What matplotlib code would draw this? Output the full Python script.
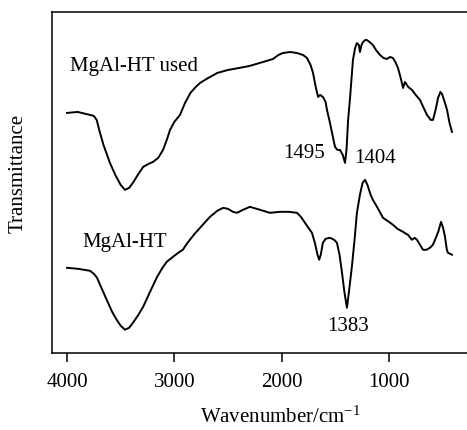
import matplotlib.pyplot as plt

# FTIR spectra (wavenumber in cm-1, transmittance in arbitrary units)
used_wn = [4000, 3900, 3786, 3750, 3723, 3700, 3660, 3600, 3550, 3500, 3460, 3420,
           3380, 3340, 3290, 3240, 3198, 3150, 3105, 3070, 3040, 3000, 2947, 2900,
           2850, 2800, 2760, 2700, 2600, 2500, 2397, 2300, 2173, 2080, 2030, 1987,
           1920, 1857, 1800, 1763, 1730, 1707, 1680, 1660, 1640, 1615, 1590, 1577,
           1549, 1520, 1502, 1480, 1456, 1430, 1409, 1395, 1380, 1362, 1335, 1315,
           1298, 1280, 1270, 1255, 1242, 1220, 1205, 1180, 1149, 1120, 1083, 1050,
           1018, 990, 962, 940, 915, 890, 868, 850, 820, 785, 750, 710, 680, 645,
           610, 589, 565, 542, 520, 505, 480, 458, 435, 412]
used_t = [247, 248, 245, 244, 240, 230, 215, 197, 185, 175, 170, 172,
          178, 185, 193, 196, 198, 202, 210, 220, 230, 238, 245, 257,
          267, 273, 277, 281, 287, 290, 292, 294, 298, 301, 305, 307,
          308, 307, 305, 302, 295, 287, 272, 263, 265, 263, 258, 250,
          237, 222, 213, 210, 210, 205, 197, 210, 240, 262, 300, 312,
          317, 315, 308, 315, 318, 320, 320, 318, 315, 310, 305, 302,
          301, 303, 302, 298, 292, 282, 272, 278, 273, 270, 265, 260, 253, 245,
          240, 240, 250, 262, 268, 266, 258, 250, 237, 228]

ht_wn = [4000, 3900, 3786, 3750, 3720, 3680, 3630, 3580, 3537, 3500, 3460, 3420,
         3385, 3340, 3290, 3230, 3160, 3110, 3070, 3000, 2950, 2920, 2890, 2855,
         2810, 2760, 2710, 2667, 2600, 2545, 2500, 2453, 2416, 2360, 2295, 2200,
         2109, 2015, 1930, 1857, 1820, 1782, 1750, 1717, 1690, 1665, 1650, 1635,
         1615, 1590, 1549, 1510, 1484, 1460, 1437, 1415, 1391, 1370, 1345, 1320,
         1298, 1270, 1245, 1223, 1200, 1170, 1149, 1111, 1080, 1055, 1000, 962,
         920, 868, 840, 822, 800, 785, 760, 738, 710, 682, 650, 617, 590, 570,
         540, 514, 495, 477, 460, 449, 430, 412]
ht_t = [92, 91, 89, 86, 82, 72, 60, 48, 40, 34, 30, 32,
        37, 44, 53, 67, 83, 92, 98, 104, 108, 110, 115, 120,
        126, 132, 138, 143, 149, 152, 151, 148, 147, 150, 153, 150,
        147, 148, 148, 147, 143, 137, 132, 127, 117, 105, 100, 105,
        117, 121, 122, 120, 117, 105, 87, 68, 52, 70, 93, 120,
        147, 165, 177, 180, 175, 165, 160, 153, 147, 142, 138, 135,
        131, 128, 126, 125, 122, 120, 122, 120, 115, 110, 110, 112, 115, 120,
        128, 138, 132, 123, 110, 107, 106, 105]

plt.rcParams['font.family'] = ['Liberation Serif', 'DejaVu Serif']
plt.rcParams['mathtext.fontset'] = 'custom'
plt.rcParams['mathtext.rm'] = 'Liberation Serif'

fig = plt.figure(figsize=(4.67, 4.30), dpi=100)
ax = fig.add_axes([0.1113, 0.1798, 0.8887, 0.7922])

ax.plot(used_wn, used_t, color='black', lw=1.4)
ax.plot(ht_wn, ht_t, color='black', lw=1.4)

ax.set_xlim(4140, 272)
ax.set_ylim(7, 348)
ax.set_xticks([4000, 3000, 2000, 1000])
ax.set_yticks([])
ax.tick_params(axis='x', direction='out', length=6.5, width=1.1, pad=8, labelsize=15)
ax.spines['right'].set_visible(False)
for s in ['left', 'top', 'bottom']:
    ax.spines[s].set_linewidth(1.1)

ax.text(3972, 293, 'MgAl-HT used', fontsize=15, ha='left', va='center')
ax.text(3860, 117, 'MgAl-HT', fontsize=15, ha='left', va='center')
ax.text(1791, 206, '1495', fontsize=15, ha='center', va='center')
ax.text(1130, 201, '1404', fontsize=15, ha='center', va='center')
ax.text(1381, 33, '1383', fontsize=15, ha='center', va='center')

fig.text(18 / 467, 1 - 173 / 430, 'Transmittance', rotation=90, fontsize=15,
         ha='center', va='center')
fig.text(280 / 467, 1 - 417 / 430, r'Wavenumber/cm$\mathregular{^{-1}}$', fontsize=15,
         ha='center', va='center')

fig.savefig('out.png', dpi=100)
